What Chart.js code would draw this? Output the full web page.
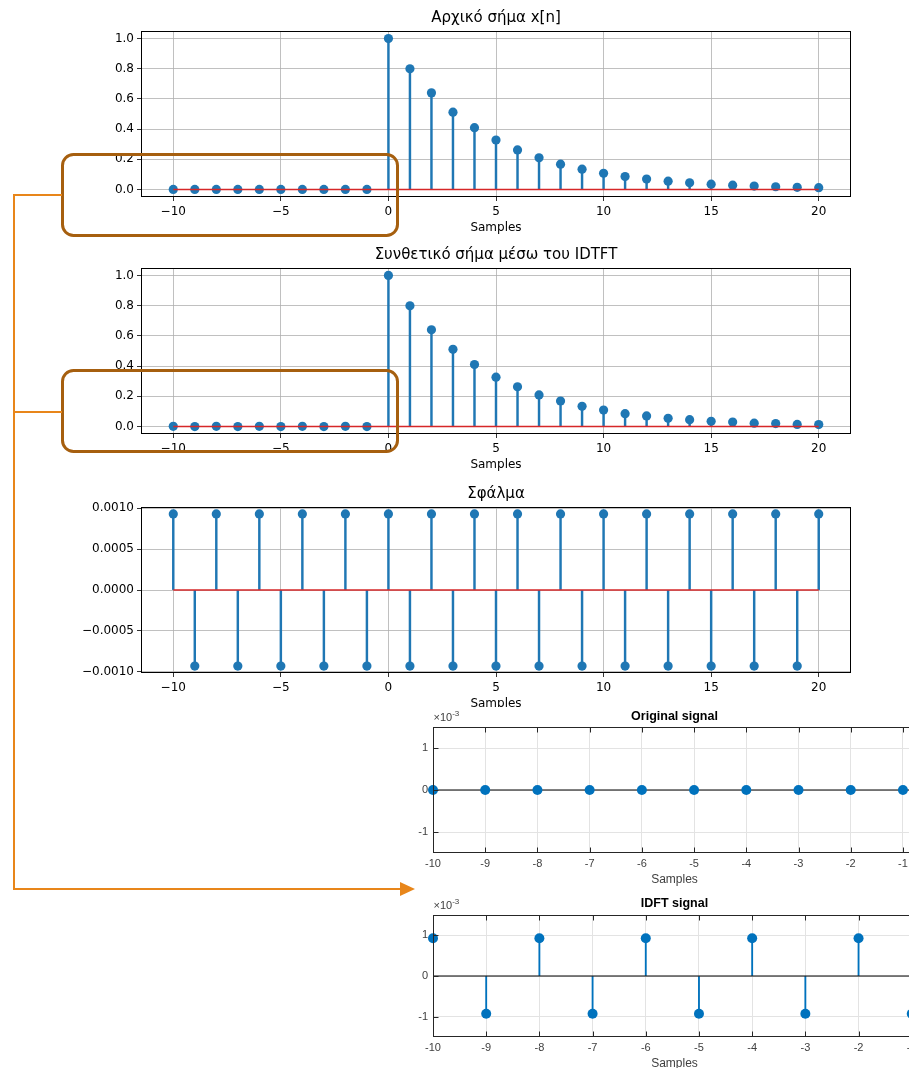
<!DOCTYPE html>
<html>
<head>
<meta charset="utf-8">
<title>x[n] και IDTFT</title>
<script src="https://cdn.jsdelivr.net/npm/chart.js@4.4.0/dist/chart.umd.min.js"></script>
<style>
html, body { margin: 0; padding: 0; background: #fff; overflow: hidden; width: 909px; height: 1068px; }
canvas { position: absolute; display: block; }
#matlabBg { position: absolute; left: 418px; top: 707px; width: 491px; height: 361px; background: #fff; }
#marks { position: absolute; left: 0; top: 0; pointer-events: none; }
</style>
</head>
<body>
<canvas id="origChart" width="790" height="240" style="left:80px;top:0px"></canvas>
<canvas id="synthChart" width="790" height="240" style="left:80px;top:237px"></canvas>
<canvas id="errChart" width="790" height="240" style="left:80px;top:476px"></canvas>
<div id="matlabBg"></div>
<canvas id="mOrigChart" width="513" height="184" style="left:418px;top:707px"></canvas>
<canvas id="mIdftChart" width="513" height="185" style="left:418px;top:890px"></canvas>
<svg id="marks" width="909" height="1068">
  <rect x="62.5" y="154.5" width="335" height="81" rx="11" fill="none" stroke="#a65f0f" stroke-width="3"/>
  <rect x="62.5" y="370.5" width="335" height="81" rx="11" fill="none" stroke="#a65f0f" stroke-width="3"/>
  <polyline points="62,195 14,195 14,889 401,889" fill="none" stroke="#e8861a" stroke-width="2"/>
  <line x1="14" y1="412" x2="62" y2="412" stroke="#e8861a" stroke-width="2"/>
  <polygon points="400,882 415,889 400,896" fill="#e8861a"/>
</svg>
<script>
// samples n = -10..20
const samples = [-10, -9, -8, -7, -6, -5, -4, -3, -2, -1, 0, 1, 2, 3, 4, 5, 6, 7, 8, 9, 10, 11, 12, 13, 14, 15, 16, 17, 18, 19, 20];
const originalSignal = [0, 0, 0, 0, 0, 0, 0, 0, 0, 0,
    1, 0.8, 0.64, 0.512, 0.4096, 0.3277, 0.2621, 0.2097, 0.1678, 0.1342, 0.1074,
    0.0859, 0.0687, 0.055, 0.044, 0.0352, 0.0281, 0.0225, 0.018, 0.0144, 0.0115];
const synthSignal = [0.00093, -0.00093, 0.00093, -0.00093, 0.00093, -0.00093, 0.00093, -0.00093, 0.00093, -0.00093,
    1.00093, 0.79907, 0.64093, 0.51107, 0.41053, 0.32675, 0.26307, 0.20879, 0.1687, 0.13329, 0.1083,
    0.08497, 0.06965, 0.05405, 0.04491, 0.03425, 0.02908, 0.02159, 0.01894, 0.01348, 0.01246];
const errorSignal = [0.00093, -0.00093, 0.00093, -0.00093, 0.00093, -0.00093, 0.00093, -0.00093, 0.00093, -0.00093,
    0.00093, -0.00093, 0.00093, -0.00093, 0.00093, -0.00093, 0.00093, -0.00093, 0.00093, -0.00093, 0.00093,
    -0.00093, 0.00093, -0.00093, 0.00093, -0.00093, 0.00093, -0.00093, 0.00093, -0.00093, 0.00093];
const xTicks = [-10, -5, 0, 5, 10, 15, 20];
const ampTicks = [0, 0.2, 0.4, 0.6, 0.8, 1.0];
const errTicks = [-0.001, -0.0005, 0, 0.0005, 0.001];

// zoomed MATLAB views, n = -10..-1
const matlabSamples = [-10, -9, -8, -7, -6, -5, -4, -3, -2, -1];
const matlabOrig = [0, 0, 0, 0, 0, 0, 0, 0, 0, 0];
const matlabIdft = [0.00093, -0.00093, 0.00093, -0.00093, 0.00093, -0.00093, 0.00093, -0.00093, 0.00093, -0.00093];
const matlabYTicks = [-0.001, 0, 0.001];

const MPL_FONT = "'DejaVu Sans'";
const ML_FONT = "'Liberation Sans', Arial";

// box around plot area, inward ticks and x10^-3 label for the MATLAB ones
const framePlugin = {
    id: "frame",
    defaults: { color: "#000", inTicks: false, sci: false },
    afterDraw(chart, args, o) {
        const ctx = chart.ctx;
        const a = chart.chartArea;
        const l = Math.round(a.left) + 0.5, t = Math.round(a.top) + 0.5;
        const r = Math.round(a.right) - 0.5, b = Math.round(a.bottom) - 0.5;
        ctx.save();
        ctx.strokeStyle = o.color;
        ctx.lineWidth = 1;
        ctx.strokeRect(l, t, r - l, b - t);
        if (o.inTicks) {
            ctx.beginPath();
            chart.scales.x.ticks.forEach(function(tk) {
                const x = Math.round(chart.scales.x.getPixelForValue(tk.value)) + 0.5;
                ctx.moveTo(x, b); ctx.lineTo(x, b - 5);
                ctx.moveTo(x, t); ctx.lineTo(x, t + 5);
            });
            chart.scales.y.ticks.forEach(function(tk) {
                const y = Math.round(chart.scales.y.getPixelForValue(tk.value)) + 0.5;
                ctx.moveTo(l, y); ctx.lineTo(l + 5, y);
            });
            ctx.stroke();
        }
        if (o.sci) {
            ctx.fillStyle = "#404040";
            ctx.textBaseline = "middle";
            ctx.font = "11px " + ML_FONT;
            ctx.fillText("\u00d710", l, a.top - 9);
            const w = ctx.measureText("\u00d710").width;
            ctx.font = "8px " + ML_FONT;
            ctx.fillText("-3", l + w, a.top - 13);
        }
        ctx.restore();
    }
};
Chart.register(framePlugin);

function mplNum(v, d) {
    return (v < 0 ? "\u2212" : "") + Math.abs(v).toFixed(d);
}

function stemChart(id, title, values, yMin, yMax, yTicks, yDec) {
    const pts = samples.map((n, i) => ({ x: n, y: values[i] }));
    const gridOpts = { color: "#b0b0b0", lineWidth: 0.8, tickColor: "#000", tickLength: 4, offset: false };
    return new Chart(document.getElementById(id), {
        type: "scatter",
        data: {
            datasets: [
                { type: "line", data: [{ x: samples[0], y: 0 }, { x: samples[samples.length - 1], y: 0 }],
                  borderColor: "#d62728", borderWidth: 1.5, pointRadius: 0, order: 0 },
                { type: "scatter", data: pts, backgroundColor: "#1f77b4", borderWidth: 0, pointRadius: 4.6, order: 1 },
                { type: "bar", data: pts, backgroundColor: "#1f77b4", borderWidth: 0, barThickness: 1.8, grouped: false, order: 2 }
            ]
        },
        options: {
            responsive: false,
            animation: false,
            devicePixelRatio: 1,
            layout: { padding: { left: 0, right: 19, top: 0, bottom: 0.5 } },
            plugins: {
                legend: { display: false },
                tooltip: { enabled: false },
                title: { display: true, text: title, fullSize: false, color: "#000",
                         font: { family: MPL_FONT, size: 15, weight: "normal" }, padding: { top: 9, bottom: 4 } },
                frame: { color: "#000" }
            },
            scales: {
                x: {
                    type: "linear", min: -11.5, max: 21.5, offset: false,
                    afterBuildTicks: s => { s.ticks = xTicks.map(v => ({ value: v })); },
                    afterFit: s => { s.height = 42.5; },
                    grid: gridOpts,
                    border: { display: false },
                    ticks: { color: "#000", font: { family: MPL_FONT, size: 12 }, padding: 3.5, maxRotation: 0, autoSkip: false,
                             callback: v => mplNum(v, 0) },
                    title: { display: true, text: "Samples", color: "#000", font: { family: MPL_FONT, size: 12 },
                             padding: { top: 0, bottom: 4 } }
                },
                y: {
                    type: "linear", min: yMin, max: yMax,
                    afterBuildTicks: s => { s.ticks = yTicks.map(v => ({ value: v })); },
                    afterFit: s => { s.width = 61; },
                    grid: gridOpts,
                    border: { display: false },
                    ticks: { color: "#000", font: { family: MPL_FONT, size: 12 }, padding: 3, autoSkip: false,
                             callback: v => mplNum(v, yDec) }
                }
            }
        }
    });
}

function matlabChart(id, title, values, xMax, padTop, padBottom) {
    const pts = matlabSamples.map((n, i) => ({ x: n, y: values[i] }));
    const gridOpts = { color: "#e3e3e3", lineWidth: 1, drawTicks: false, offset: false };
    return new Chart(document.getElementById(id), {
        type: "scatter",
        data: {
            datasets: [
                { type: "scatter", data: pts, backgroundColor: "#0072bd", borderWidth: 0, pointRadius: 5, clip: false, order: 0 },
                { type: "line", data: [{ x: matlabSamples[0], y: 0 }, { x: xMax, y: 0 }],
                  borderColor: "#000", borderWidth: 1, pointRadius: 0, order: 1 },
                { type: "bar", data: pts, backgroundColor: "#0072bd", borderWidth: 0, barThickness: 1.2, grouped: false, order: 2 }
            ]
        },
        options: {
            responsive: false,
            animation: false,
            devicePixelRatio: 1,
            layout: { padding: { left: 0, right: 15, top: 0, bottom: 2 } },
            plugins: {
                legend: { display: false },
                tooltip: { enabled: false },
                title: { display: true, text: title, fullSize: false, color: "#000",
                         font: { family: ML_FONT, size: 12.5, weight: "bold" }, padding: { top: padTop, bottom: padBottom } },
                frame: { color: "#262626", inTicks: true, sci: true }
            },
            scales: {
                x: {
                    type: "linear", min: matlabSamples[0], max: xMax, offset: false,
                    afterBuildTicks: s => { s.ticks = matlabSamples.map(v => ({ value: v })); },
                    afterFit: s => { s.height = 36; },
                    grid: gridOpts,
                    border: { display: false },
                    ticks: { color: "#404040", font: { family: ML_FONT, size: 11 }, padding: 4.4, maxRotation: 0, autoSkip: false,
                             callback: v => String(v) },
                    title: { display: true, text: "Samples", color: "#404040", font: { family: ML_FONT, size: 12 },
                             padding: { top: 0, bottom: 2 } }
                },
                y: {
                    type: "linear", min: -0.0015, max: 0.0015,
                    afterBuildTicks: s => { s.ticks = matlabYTicks.map(v => ({ value: v })); },
                    afterFit: s => { s.width = 15; },
                    grid: gridOpts,
                    border: { display: false },
                    ticks: { color: "#404040", font: { family: ML_FONT, size: 11 }, padding: 5, autoSkip: false,
                             callback: v => String(Math.round(v * 1000)) }
                }
            }
        }
    });
}

stemChart("origChart", "Αρχικό σήμα x[n]", originalSignal, -0.05, 1.05, ampTicks, 1);
stemChart("synthChart", "Συνθετικό σήμα μέσω του IDTFT", synthSignal, -0.05, 1.05, ampTicks, 1);
stemChart("errChart", "Σφάλμα", errorSignal, -0.001015, 0.001015, errTicks, 4);
matlabChart("mOrigChart", "Original signal", matlabOrig, -0.75, 2.5, 2.5);
matlabChart("mIdftChart", "IDFT signal", matlabIdft, -0.92, 6.5, 3.5);
</script>
</body>
</html>
